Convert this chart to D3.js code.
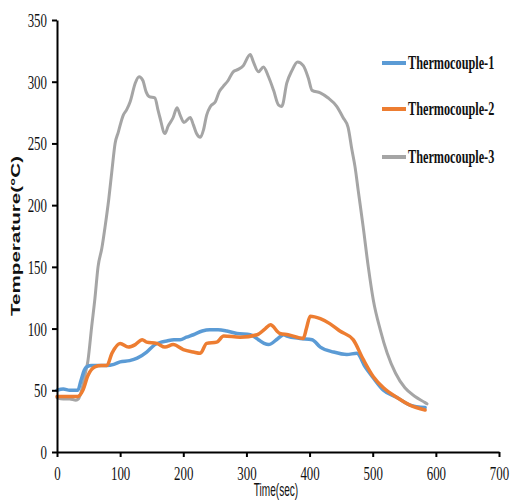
<!DOCTYPE html>
<html>
<head>
<meta charset="utf-8">
<script src="https://cdn.jsdelivr.net/npm/d3@7"></script>
<style>
  body { margin: 0; background: #fff; }
  svg { display: block; }
</style>
</head>
<body>
<svg id="chart"></svg>
<script>
// data
var seriesNames = ["Thermocouple-1", "Thermocouple-2", "Thermocouple-3"];
var colors = ["#5B9BD5", "#ED7D31", "#A5A5A5"];

var tc1Time = [0,10,20,33,38,43,47,55,65,79,90,100,115,127,142,155,165,174,185,195,205,216,230,242,255,269,285,306,319,328,335,350,359,364,385,404,417,438,459,475,488,501,517,539,559,583];
var tc1Temp = [50,51,50,50,58,66,69,70,70,70,71,73,74,76,81,87,89,90,91,91,93,95,98,99,99,98,96,95,91,88,87,92,95,94,92,91,85,81,79,80,69,60,50,44,38,36];

var tc2Time = [0,10,20,33,41,49,60,70,79,87,100,113,124,135,142,158,171,184,200,216,227,237,253,264,290,317,330,338,353,366,390,395,401,417,432,448,469,485,501,517,539,559,583];
var tc2Temp = [45,45,45,45,50,62,69,70,70,80,88,85,87,91,89,88,85,87,83,81,80,88,89,94,93,95,100,103,96,95,92,100,110,108,104,98,91,75,61,52,44,38,34];

var tc3Time = [0,10,20,30,34,40,45,49,55,60,65,71,76,82,87,92,97,105,110,116,124,130,136,141,146,155,160,163,171,176,184,190,195,201,211,216,221,227,232,237,243,251,257,263,271,279,287,295,306,311,319,327,335,343,351,356,364,372,381,390,398,404,417,429,443,453,461,467,472,477,485,493,501,512,523,536,551,567,583,586];
var tc3Temp = [44,43,43,42,43,52,64,74,102,124,150,165,182,205,228,250,259,273,277,284,299,304,301,292,288,287,277,271,258,264,271,279,273,267,271,265,258,255,261,273,280,284,292,296,301,308,310,313,322,316,308,312,304,293,281,280,299,309,316,313,303,293,291,287,280,271,263,245,231,212,182,150,123,99,80,64,52,45,40,39];

var xTicks = [0,100,200,300,400,500,600,700];
var yTicks = [0,50,100,150,200,250,300,350];

var W = 510, H = 501;
var margin = {top: 20, right: 11, bottom: 49, left: 57};
var width = W - margin.left - margin.right,
    height = H - margin.top - margin.bottom;
var SQ = 0.68; // narrow serif look of the original

var svg = d3.select("#chart").attr("width", W).attr("height", H);
var g = svg.append("g")
    .attr("transform", "translate(" + margin.left + "," + margin.top + ")");

var x = d3.scaleLinear().domain([0, 700]).range([0, width]);
var y = d3.scaleLinear().domain([0, 350]).range([height, 0]);

var series = [
  {name: seriesNames[0], color: colors[0], w: 3.5, t: tc1Time, v: tc1Temp},
  {name: seriesNames[1], color: colors[1], w: 3.5, t: tc2Time, v: tc2Temp},
  {name: seriesNames[2], color: colors[2], w: 3, t: tc3Time, v: tc3Temp}
];

var line = d3.line()
    .x(function(d) { return x(d[0]); })
    .y(function(d) { return y(d[1]); })
    .curve(d3.curveMonotoneX);

// gray first so it sits under the others at the start
[2, 0, 1].forEach(function(i) {
  var s = series[i];
  g.append("path")
    .datum(d3.zip(s.t, s.v))
    .attr("fill", "none")
    .attr("stroke", s.color)
    .attr("stroke-width", s.w)
    .attr("stroke-linejoin", "round")
    .attr("stroke-linecap", "round")
    .attr("d", line);
});

// axes
var xAxis = g.append("g")
    .attr("transform", "translate(0," + height + ")")
    .call(d3.axisBottom(x).tickValues(xTicks).tickSize(5).tickSizeOuter(0));
var yAxis = g.append("g")
    .call(d3.axisLeft(y).tickValues(yTicks).tickSize(5).tickSizeOuter(0));

[xAxis, yAxis].forEach(function(a) {
  a.select(".domain").attr("stroke", "#000").attr("stroke-width", 2);
  a.selectAll(".tick line").attr("stroke", "#000").attr("stroke-width", 2);
  a.selectAll(".tick text")
    .attr("fill", "#111")
    .style("font-family", "'Liberation Serif', 'Times New Roman', serif")
    .style("font-size", "19px")
    .attr("transform", "scale(" + SQ + ",1)");
});
xAxis.selectAll(".tick text").attr("x", 0).attr("y", 15).attr("dy", "0.71em");
yAxis.selectAll(".tick text").attr("x", -10 / SQ).attr("dy", "0.34em");

// axis titles
svg.append("text")
    .attr("transform", "translate(276,496) scale(0.56,1)")
    .attr("text-anchor", "middle")
    .style("font-family", "'Liberation Sans', Arial, sans-serif")
    .style("font-size", "18px")
    .attr("fill", "#111")
    .text("Time(sec)");

svg.append("text")
    .attr("transform", "translate(20,236) rotate(-90)")
    .attr("text-anchor", "middle")
    .style("font-family", "'Liberation Sans', Arial, sans-serif")
    .style("font-size", "13px")
    .style("font-weight", "bold")
    .attr("fill", "#111")
    .attr("textLength", 160)
    .attr("lengthAdjust", "spacingAndGlyphs")
    .text("Temperature(°C)");

// legend
var legendY = [63, 109, 157];
var legend = svg.append("g");
series.forEach(function(s, i) {
  legend.append("line")
    .attr("x1", 382).attr("x2", 406)
    .attr("y1", legendY[i]).attr("y2", legendY[i])
    .attr("stroke", s.color)
    .attr("stroke-width", 4);
  legend.append("text")
    .attr("transform", "translate(408," + (legendY[i] + 6) + ") scale(" + SQ + ",1)")
    .style("font-family", "'Liberation Serif', 'Times New Roman', serif")
    .style("font-size", "18px")
    .style("font-weight", "bold")
    .attr("fill", "#111")
    .text(s.name);
});
</script>
</body>
</html>
